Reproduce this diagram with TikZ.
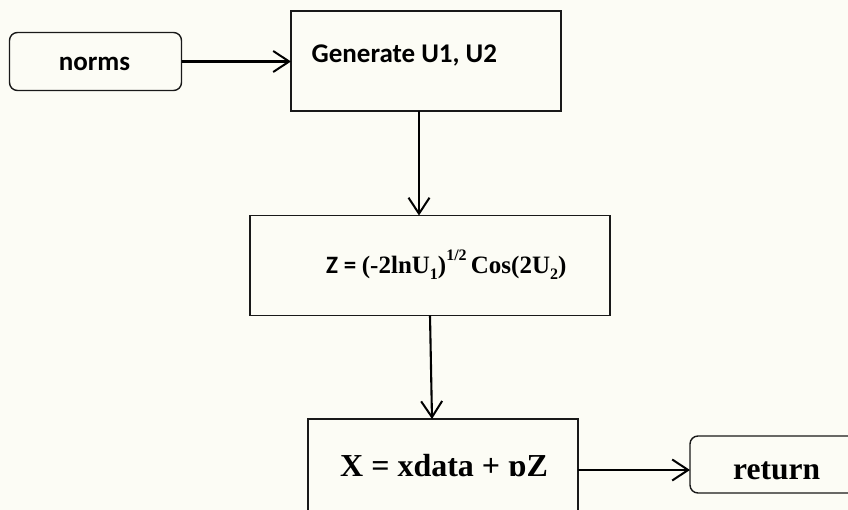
\documentclass[tikz,border=0pt]{standalone}
\usepackage{fontspec}
\usetikzlibrary{arrows.meta}
\newfontfamily\calibrifont[BoldFont={* Bold}]{Carlito}
\newfontfamily\timesfont{Liberation Serif}
\definecolor{paper}{RGB}{252,252,245}
\newcommand{\lowidx}[1]{\raisebox{-0.22em}{\fontsize{16}{16}\selectfont #1}}
\newcommand{\highidx}[1]{\raisebox{0.55em}{\fontsize{16}{16}\selectfont #1}}
\begin{document}
\begin{tikzpicture}[x=1pt,y=-1pt,
  box/.style={draw=black!90,line width=1.4pt,inner sep=0pt,outer sep=0pt},
  roundbox/.style={box,rounded corners=8pt},
  arr/.style={draw=black,line width=2.1pt,-{Straight Barb[length=16pt,width=21pt,line width=2pt]}},
  calb/.style={font=\calibrifont\bfseries\fontsize{27}{27}\selectfont,inner sep=0pt},
  timb/.style={font=\timesfont\bfseries,inner sep=0pt}]
\useasboundingbox (0,0) rectangle (848,510);
\fill[paper] (0,0) rectangle (848,510);
\clip (0,0) rectangle (848,510);

% boxes
\node[roundbox,minimum width=172pt,minimum height=58pt] (norms) at (95.5,61.5) {};
\node[box,minimum width=270pt,minimum height=100pt] (gen) at (426,61) {};
\node[box,minimum width=360pt,minimum height=100pt] (zbox) at (430,265.5) {};
\node[box,minimum width=270pt,minimum height=100pt] (xbox) at (443,469) {};
\node[roundbox,minimum width=200pt,minimum height=57pt] (ret) at (790,464.5) {};

% labels
\node[calb,anchor=base] (tnorms) at (94.5,71) {norms};
\node[calb,anchor=base west] (tgen) at (311.5,63) {Generate U1, U2};
\node[timb,anchor=base west,font=\timesfont\bfseries\fontsize{25}{25}\selectfont] (tz) at (326,274)
  {{\calibrifont\bfseries Z = }(-2lnU\lowidx{1})\highidx{1/2}\,Cos(2U\lowidx{2})};
\node[timb,anchor=base west,font=\timesfont\bfseries\fontsize{32}{32}\selectfont] (tx) at (340,476) {X = xdata + ɒZ};
\node[timb,anchor=base west,font=\timesfont\bfseries\fontsize{31.5}{31.5}\selectfont] (tret) at (733,479.5) {return};

% connectors
\draw[arr] (norms.east) -- (norms.east -| gen.west);
\draw[arr] ([xshift=-7pt]gen.south) -- ([xshift=-7pt]gen.south |- zbox.north);
\draw[arr] (zbox.south) -- ([xshift=-11pt]xbox.north);
\draw[arr] ([yshift=-1pt]xbox.east) -- ([yshift=-1pt]xbox.east -| ret.west);
\end{tikzpicture}
\end{document}
